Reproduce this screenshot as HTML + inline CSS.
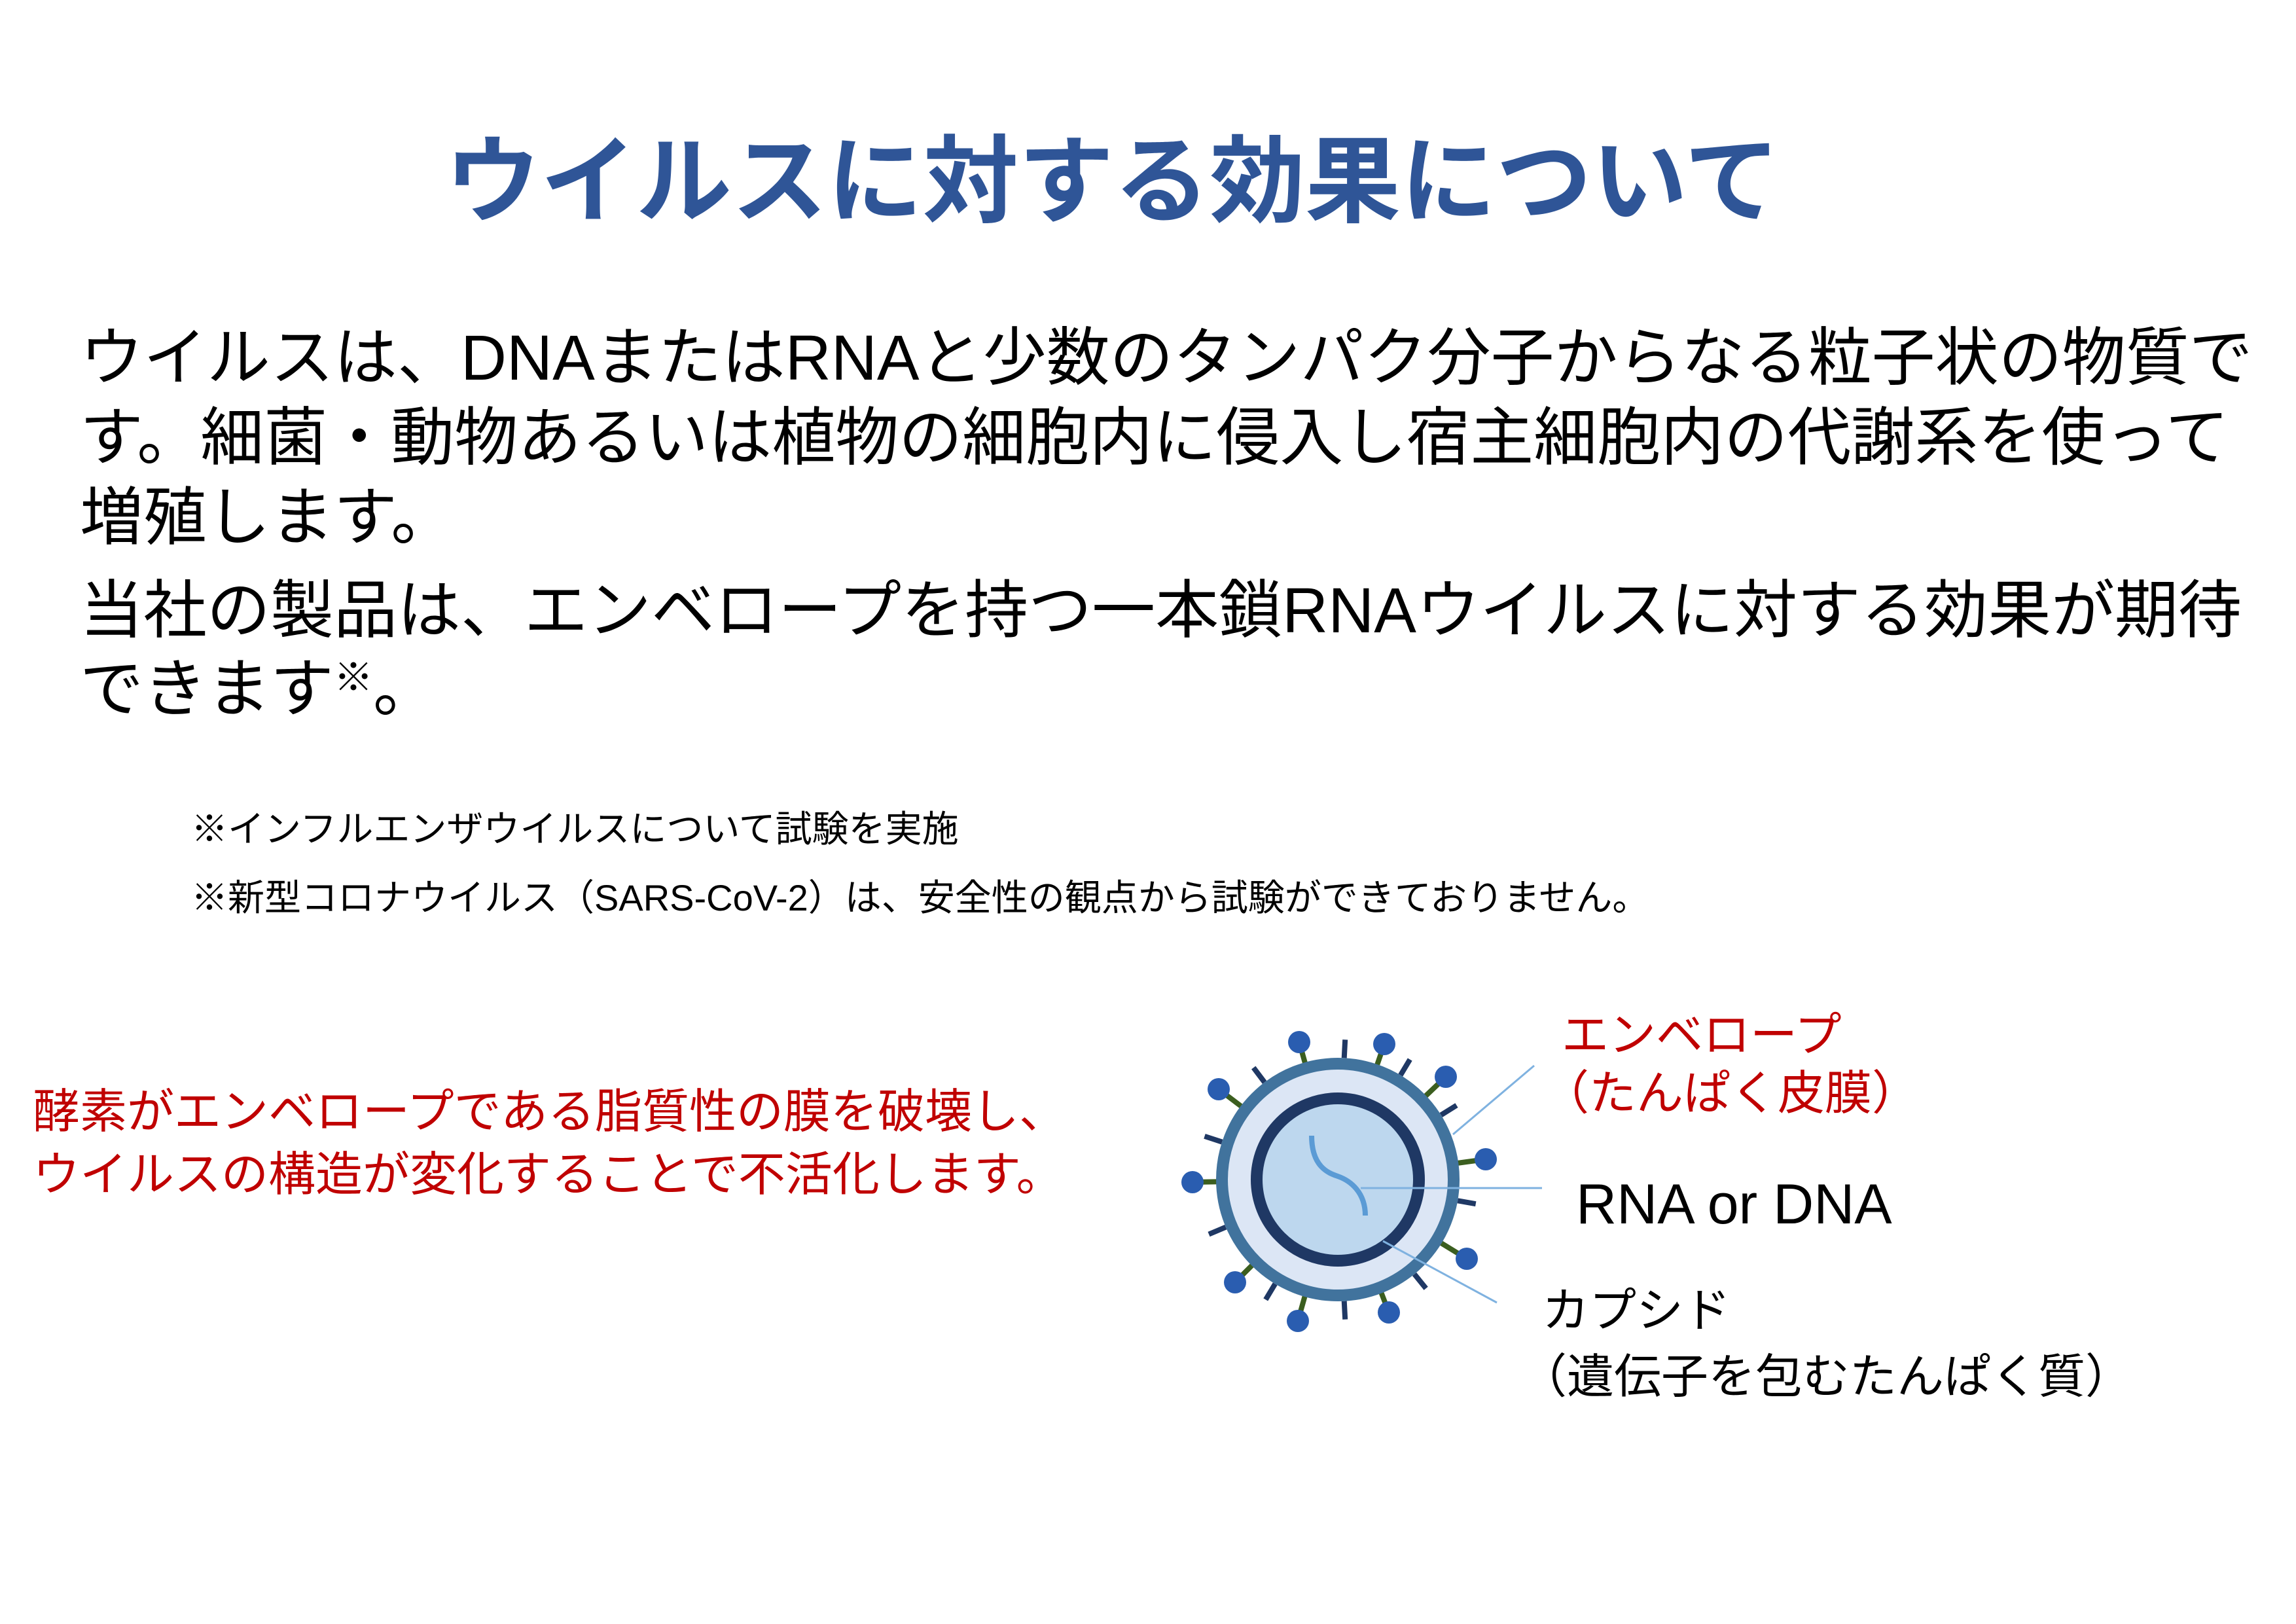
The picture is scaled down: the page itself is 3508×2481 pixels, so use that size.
<!DOCTYPE html>
<html><head><meta charset="utf-8"><style>
html,body{margin:0;padding:0;background:#fff}
body{width:3508px;height:2481px;position:relative;overflow:hidden;font-family:"Liberation Sans","Noto Sans CJK JP",sans-serif}
.t{position:absolute;white-space:nowrap;line-height:1}
</style></head><body>
<div class="t" style="left:680px;top:205px;font-size:146px;color:#2f5597;font-weight:bold">ウイルスに対する効果について</div>
<div class="t" style="left:122px;top:498px;font-size:97px;color:#000">ウイルスは、DNAまたはRNAと少数のタンパク分子からなる粒子状の物質で</div>
<div class="t" style="left:122px;top:620px;font-size:97px;color:#000">す。細菌・動物あるいは植物の細胞内に侵入し宿主細胞内の代謝系を使って</div>
<div class="t" style="left:122px;top:742px;font-size:97px;color:#000">増殖します。</div>
<div class="t" style="left:122px;top:884px;font-size:97px;color:#000">当社の製品は、エンベロープを持つ一本鎖RNAウイルスに対する効果が期待</div>
<div class="t" style="left:122px;top:1004px;font-size:97px;color:#000">できます<span style="font-size:60px;vertical-align:30px">※</span>。</div>
<div class="t" style="left:292px;top:1239px;font-size:56px;color:#000">※インフルエンザウイルスについて試験を実施</div>
<div class="t" style="left:292px;top:1344px;font-size:56px;color:#000">※新型コロナウイルス（SARS-CoV-2）は、安全性の観点から試験ができておりません。</div>
<div class="t" style="left:50px;top:1663px;font-size:72px;color:#c00000">酵素がエンベロープである脂質性の膜を破壊し、</div>
<div class="t" style="left:50px;top:1759px;font-size:72px;color:#c00000">ウイルスの構造が変化することで不活化します。</div>
<div class="t" style="left:2386px;top:1546px;font-size:72px;color:#c00000">エンベロープ</div>
<div class="t" style="left:2356px;top:1635px;font-size:72px;color:#c00000">（たんぱく皮膜）</div>
<div class="t" style="left:2408px;top:1797px;font-size:86px;color:#000">RNA or DNA</div>
<div class="t" style="left:2356px;top:1967px;font-size:72px;color:#000">カプシド</div>
<div class="t" style="left:2322px;top:2068px;font-size:72px;color:#000">（遺伝子を包むたんぱく質）</div>
<svg style="position:absolute;left:0;top:0" width="3508" height="2481">
<g transform="translate(2044,1802)">
<g stroke="#1f3864" stroke-width="8">
<line x1="0" y1="-186" x2="0" y2="-214" transform="rotate(3)"/>
<line x1="0" y1="-186" x2="0" y2="-214" transform="rotate(31)"/>
<line x1="0" y1="-186" x2="0" y2="-214" transform="rotate(58)"/>
<line x1="0" y1="-186" x2="0" y2="-214" transform="rotate(100)"/>
<line x1="0" y1="-186" x2="0" y2="-214" transform="rotate(141)"/>
<line x1="0" y1="-186" x2="0" y2="-214" transform="rotate(177)"/>
<line x1="0" y1="-186" x2="0" y2="-214" transform="rotate(211)"/>
<line x1="0" y1="-186" x2="0" y2="-214" transform="rotate(247)"/>
<line x1="0" y1="-186" x2="0" y2="-214" transform="rotate(288)"/>
<line x1="0" y1="-186" x2="0" y2="-214" transform="rotate(323)"/>
</g>
<g stroke="#3b5e1f" stroke-width="8">
<line x1="0" y1="0" x2="-59" y2="-210"/><line x1="0" y1="0" x2="71" y2="-207"/>
<line x1="0" y1="0" x2="165" y2="-157"/><line x1="0" y1="0" x2="226" y2="-31"/>
<line x1="0" y1="0" x2="197" y2="121"/><line x1="0" y1="0" x2="78" y2="203"/>
<line x1="0" y1="0" x2="-61" y2="216"/><line x1="0" y1="0" x2="-157" y2="157"/>
<line x1="0" y1="0" x2="-222" y2="4"/><line x1="0" y1="0" x2="-182" y2="-138"/>
</g>
<g fill="#2a5db0">
<circle cx="-59" cy="-210" r="17"/><circle cx="71" cy="-207" r="17"/>
<circle cx="165" cy="-157" r="17"/><circle cx="226" cy="-31" r="17"/>
<circle cx="197" cy="121" r="17"/><circle cx="78" cy="203" r="17"/>
<circle cx="-61" cy="216" r="17"/><circle cx="-157" cy="157" r="17"/>
<circle cx="-222" cy="4" r="17"/><circle cx="-182" cy="-138" r="17"/>
</g>
<circle r="177" fill="#dce6f5" stroke="#41739d" stroke-width="18"/>
<circle r="124" fill="#bdd7ee" stroke="#1f3864" stroke-width="18"/>
<path d="M-40,-67 C-40,-20 -15,-10 0,-5 C20,2 42,20 42,55" fill="none" stroke="#5b9bd5" stroke-width="8"/>
</g>
<g stroke="#7fb2e0" stroke-width="3">
<line x1="2220" y1="1733" x2="2344" y2="1628"/>
<line x1="2079" y1="1815" x2="2356" y2="1815"/>
<line x1="2113" y1="1896" x2="2287" y2="1990"/>
</g>
</svg>
</body></html>
